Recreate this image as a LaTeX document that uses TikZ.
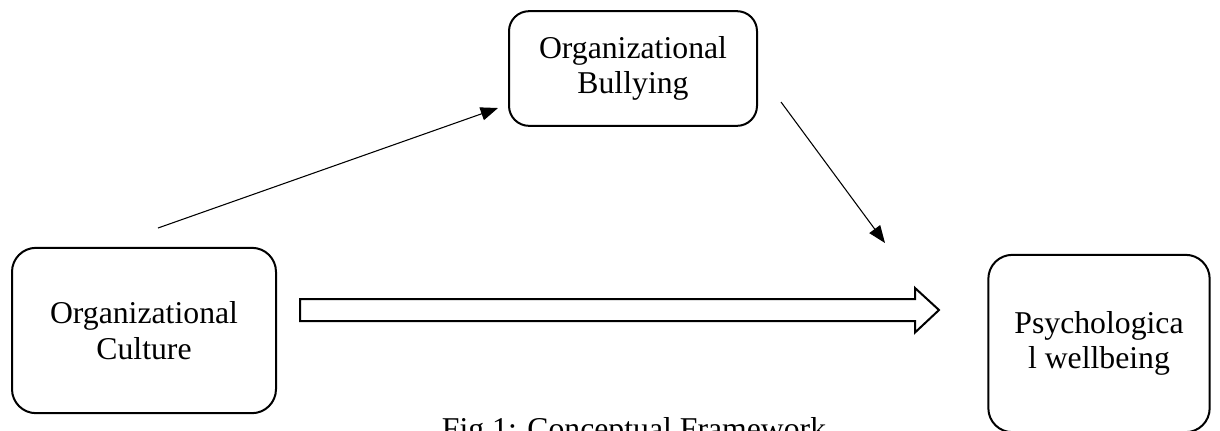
\documentclass[tikz,border=0pt]{standalone}
\usepackage{fontspec}
\setmainfont{Liberation Serif}
\usetikzlibrary{arrows.meta}

\tikzset{
  factor/.style={draw,line width=1.5pt,rounded corners=18pt,align=center,inner sep=0pt},
  link/.style={line width=.8pt,-{Triangle[length=13pt,width=10pt]}},
  hollow/.style={draw,line width=1.5pt,line join=miter}
}

\begin{document}
\begin{tikzpicture}[x=.75pt,y=-.75pt,font=\fontsize{23.8}{26.5}\selectfont]
\clip (0,0) rectangle (1220,430);
% The three factors.
\node[factor,minimum width=198pt,minimum height=124pt] (cult) at (144,330.5) {Organizational\\Culture};
\node[factor,minimum width=186pt,minimum height=86pt,rounded corners=15pt] (bully) at (633,68.5) {Organizational\\Bullying};
\node[factor,minimum width=166pt,minimum height=133pt] (psych) at (1099,343.5) {Psychologica\\l wellbeing};
% Free ends of the thin arrows.
\coordinate (cb1) at (158,228);
\coordinate (cb2) at (498,108);
\coordinate (bp1) at (781,102);
\coordinate (bp2) at (885,243);
\draw[link] (cb1) -- (cb2);
\draw[link] (bp1) -- (bp2);
% Hollow arrow from culture to wellbeing.
\coordinate (ha) at (300,310);
\coordinate (hb) at (939,310);
\draw[hollow] (ha) ++(0,-11) -- ++(615,0) -- ++(0,-11) -- (hb) -- ++(-24,22.5) -- ++(0,-11.5) -- ++(-615,0) -- cycle;
% Caption.
\node[anchor=north,inner sep=0pt] (cap) at (634,417) {Fig 1: Conceptual Framework};
\end{tikzpicture}
\end{document}
